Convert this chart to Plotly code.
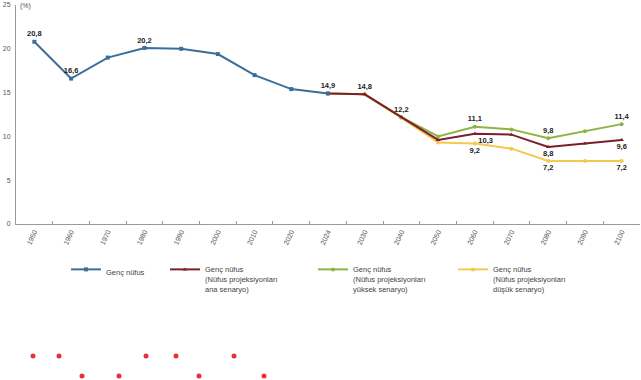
import plotly.graph_objects as go

# ---- data ----
years = ["1950", "1960", "1970", "1980", "1990", "2000", "2010", "2020", "2024",
         "2030", "2040", "2050", "2060", "2070", "2080", "2090", "2100"]

obs_years = ["1950", "1960", "1970", "1980", "1990", "2000", "2010", "2020", "2024"]
obs_vals = [20.8, 16.6, 19.0, 20.1, 20.0, 19.4, 17.0, 15.4, 14.9]
obs_text = ["20,8", "16,6", "", "20,2", "", "", "", "", "14,9"]

proj_years = ["2024", "2030", "2040", "2050", "2060", "2070", "2080", "2090", "2100"]
main_vals = [14.9, 14.8, 12.2, 9.6, 10.3, 10.2, 8.8, 9.2, 9.6]
main_text = ["", "14,8", "12,2", "", "10,3", "", "8,8", "", "9,6"]
high_vals = [14.9, 14.8, 12.2, 10.0, 11.1, 10.8, 9.8, 10.6, 11.4]
high_text = ["", "", "", "", "11,1", "", "9,8", "", "11,4"]
low_vals = [14.9, 14.8, 12.1, 9.3, 9.2, 8.6, 7.2, 7.2, 7.2]
low_text = ["", "", "", "", "9,2", "", "7,2", "", "7,2"]

y_ticks = [0, 5, 10, 15, 20, 25]

names = ["Genç nüfus",
         "Genç nüfus<br>(Nüfus projeksiyonları<br>ana senaryo)",
         "Genç nüfus<br>(Nüfus projeksiyonları<br>yüksek senaryo)",
         "Genç nüfus<br>(Nüfus projeksiyonları<br>düşük senaryo)"]

# stray red dots below the chart (pixel positions in the image)
dot_x = [33, 59, 146, 176, 234, 82, 119, 199, 264]
dot_y = [356, 356, 356, 356, 356, 376, 376, 376, 376]

# ---- styling ----
W, H = 641, 380
C_BLUE = "#3b6e99"
C_RED = "#7a1f2b"
C_GREEN = "#8fb443"
C_YEL = "#f3c94e"
FONT = "Liberation Sans, Arial, sans-serif"
lab_font = dict(family=FONT, size=7.5, color="#222222", weight="bold")

x0, x1 = 16 / W, 640 / W
y0, y1 = (H - 224) / H, (H - 5) / H

fig = go.Figure()


def add(xv, yv, txt, pos, name, color, symbol, legend):
    fig.add_trace(go.Scatter(
        x=xv, y=yv, mode="lines+markers+text", name=name,
        text=txt, textposition=pos, textfont=lab_font,
        line=dict(color=color, width=2),
        marker=dict(color=color, size=4, symbol=symbol),
        legend=legend, cliponaxis=False,
    ))


add(proj_years, high_vals, high_text, "top center", names[2], C_GREEN, "circle", "legend3")
add(proj_years, low_vals, low_text, "bottom center", names[3], C_YEL, "circle", "legend4")
main_pos = ["top center", "top center", "top center", "top center", "bottom right",
            "top center", "bottom center", "top center", "bottom center"]
add(proj_years, main_vals, main_text, main_pos, names[1], C_RED, "triangle-up", "legend2")
add(obs_years, obs_vals, obs_text, "top center", names[0], C_BLUE, "square", "legend")

fig.add_trace(go.Scatter(
    x=dot_x, y=dot_y, mode="markers", xaxis="x2", yaxis="y2",
    marker=dict(color="#e53238", size=5), showlegend=False, hoverinfo="skip",
))

leg_common = dict(orientation="v", font=dict(family=FONT, size=7.5, color="#444"),
                  bgcolor="rgba(0,0,0,0)", yanchor="top", xanchor="left",
                  itemwidth=30, valign="top", tracegroupgap=0)
ly = (H - 258) / H

fig.update_layout(
    width=W, height=H,
    margin=dict(l=0, r=0, t=0, b=0, autoexpand=False),
    paper_bgcolor="white", plot_bgcolor="rgba(0,0,0,0)",
    font=dict(family=FONT, size=7, color="#555"),
    xaxis=dict(type="category", categoryorder="array", categoryarray=years,
               range=[-0.5, 16.5], domain=[x0, x1], anchor="y", automargin=False,
               showline=True, linecolor="#9a9a9a", linewidth=1,
               ticks="inside", ticklen=3, tickcolor="#9a9a9a", tickson="boundaries",
               tickangle=-65, showgrid=False, zeroline=False,
               tickfont=dict(family=FONT, size=7, color="#555")),
    yaxis=dict(range=[0, 25], domain=[y0, y1], anchor="x", automargin=False,
               tickvals=y_ticks, showline=True, linecolor="#9a9a9a", linewidth=1,
               ticks="", showgrid=False, zeroline=False,
               ticklabelstandoff=3,
               tickfont=dict(family=FONT, size=7, color="#555")),
    xaxis2=dict(domain=[0, 1], range=[0, W], visible=False, anchor="y2",
                fixedrange=True, automargin=False),
    yaxis2=dict(domain=[0, 1], range=[H, 0], visible=False, anchor="x2",
                fixedrange=True, automargin=False),
    legend=dict(x=66 / W, y=ly, **leg_common),
    legend2=dict(x=165 / W, y=ly, **leg_common),
    legend3=dict(x=313 / W, y=ly, **leg_common),
    legend4=dict(x=453 / W, y=ly, **leg_common),
    annotations=[dict(text="(%)", x=18 / W, y=1.0, xref="paper", yref="paper",
                      xanchor="left", yanchor="top", showarrow=False,
                      font=dict(family=FONT, size=7, color="#555"))],
)

fig.write_html("out.html",
               config={"displayModeBar": False},
               post_script="document.body.style.margin='0px';"
                           "document.body.style.overflow='hidden';")
